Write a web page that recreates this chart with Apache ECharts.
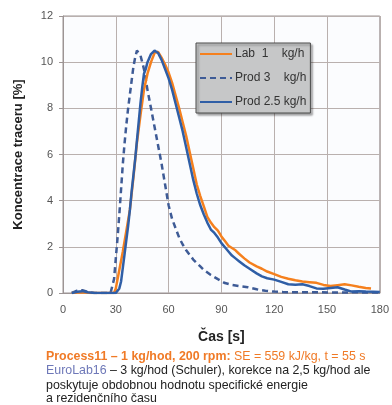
<!DOCTYPE html>
<html>
<head>
<meta charset="utf-8">
<script src="https://cdn.jsdelivr.net/npm/echarts@6/dist/echarts.min.js"></script>
<style>
  html, body { margin: 0; padding: 0; background: #fff; }
  #chart { width: 392px; height: 405px; }
</style>
</head>
<body>
<div id="chart"></div>
<script>
  // time [s] and tracer concentration [%]
  var timeLab = [5, 8, 12, 16, 20, 25, 29, 30, 32, 34, 36, 38, 40, 42, 44, 46, 48, 50, 52, 54, 56, 58, 60, 62, 64, 66, 68, 70, 72, 74, 76, 78, 80, 82, 84, 86, 88, 90, 92, 94, 96, 98, 100, 103, 106, 110, 113, 116, 120, 124, 128, 132, 136, 140, 144, 148, 152, 156, 160, 164, 168, 172, 175];
  var valLab = [0, 0.02, 0.03, 0, 0, 0, 0, 0.2, 1.0, 1.8, 2.7, 3.6, 5.0, 6.5, 7.7, 8.8, 9.5, 10.0, 10.4, 10.45, 10.2, 9.9, 9.55, 9.1, 8.55, 8.0, 7.4, 6.8, 6.1, 5.4, 4.7, 4.2, 3.75, 3.3, 3.05, 2.85, 2.7, 2.45, 2.25, 2.05, 1.95, 1.85, 1.7, 1.5, 1.32, 1.15, 1.05, 0.93, 0.82, 0.7, 0.62, 0.55, 0.5, 0.47, 0.44, 0.35, 0.3, 0.34, 0.38, 0.33, 0.27, 0.22, 0.2];

  var timeProd3 = [5, 8, 11, 14, 18, 22, 27, 28, 29, 30, 31, 32, 33, 34, 35, 36, 37, 38, 39, 40, 41, 42, 43, 44, 46, 48, 50, 52, 54, 56, 58, 60, 62, 64, 66, 68, 70, 72, 74, 76, 78, 80, 84, 88, 92, 96, 100, 105, 110, 115, 120, 125, 135, 145, 155, 165, 180];
  var valProd3 = [0, 0.1, 0.12, 0.05, 0, 0, 0, 0.05, 0.6, 1.5, 2.4, 3.4, 4.5, 5.6, 6.5, 7.3, 8.0, 8.6, 9.2, 9.8, 10.2, 10.5, 10.5, 10.3, 9.7, 8.8, 8.0, 7.2, 6.4, 5.6, 4.7, 3.8, 3.2, 2.8, 2.4, 2.1, 1.85, 1.65, 1.45, 1.3, 1.15, 1.0, 0.78, 0.6, 0.43, 0.35, 0.3, 0.25, 0.16, 0.1, 0.06, 0.04, 0.03, 0.03, 0.02, 0.03, 0.02];

  var timeProd25 = [5, 8, 11, 14, 18, 24, 30, 31, 32, 33, 34, 35, 36, 37, 38, 39, 40, 41, 42, 43, 44, 45, 46, 47, 48, 50, 52, 54, 56, 58, 60, 62, 64, 66, 68, 70, 72, 74, 76, 78, 80, 82, 84, 86, 88, 90, 92, 94, 96, 98, 100, 103, 106, 110, 113, 116, 120, 124, 128, 132, 136, 140, 144, 148, 152, 156, 160, 164, 168, 172, 176, 180];
  var valProd25 = [0, 0.05, 0.08, 0.03, 0, 0, 0, 0.05, 0.2, 0.5, 1.1, 1.7, 2.3, 2.9, 3.6, 4.4, 5.1, 5.8, 6.6, 7.4, 8.2, 8.9, 9.5, 9.7, 10.0, 10.35, 10.5, 10.4, 10.1, 9.7, 9.3, 8.8, 8.2, 7.6, 7.0, 6.3, 5.6, 4.9, 4.3, 3.8, 3.4, 3.05, 2.75, 2.6, 2.4, 2.16, 1.98, 1.8, 1.62, 1.5, 1.38, 1.2, 1.05, 0.85, 0.72, 0.64, 0.58, 0.48, 0.38, 0.36, 0.38, 0.3, 0.2, 0.18, 0.22, 0.25, 0.15, 0.06, 0.08, 0.06, 0.05, 0.04];

  var seriesNames = ['Lab  1    kg/h', 'Prod 3    kg/h', 'Prod 2.5 kg/h'];

  function pairs(ts, vs) {
    var out = [];
    for (var i = 0; i < ts.length; i++) out.push([ts[i], vs[i]]);
    return out;
  }

  var chart = echarts.init(document.getElementById('chart'), null, { renderer: 'canvas' });

  var txt = { fontFamily: 'Liberation Sans, Arial, sans-serif' };

  chart.setOption({
    animation: false,
    backgroundColor: '#ffffff',
    textStyle: txt,
    grid: {
      left: 63, right: 9, top: 16, bottom: 112,
      show: true, borderColor: '#9c9494', borderWidth: 1, backgroundColor: '#fbfcfe'
    },
    legend: {
      data: seriesNames,
      orient: 'vertical',
      left: 196, top: 43,
      itemWidth: 32, itemHeight: 10, itemGap: 12,
      padding: [5, 4, 5, 3],
      backgroundColor: '#c6c7c8',
      borderColor: '#4a4a4a', borderWidth: 1,
      shadowColor: 'rgba(0,0,0,0.35)', shadowBlur: 2, shadowOffsetX: 2, shadowOffsetY: 2,
      itemStyle: { opacity: 0 },
      textStyle: { fontFamily: txt.fontFamily, fontSize: 12, color: '#333', padding: [0, 0, 0, -2] }
    },
    xAxis: {
      type: 'value', min: 0, max: 180, interval: 30,
      name: 'Čas [s]', nameLocation: 'middle', nameGap: 37,
      nameTextStyle: { fontFamily: txt.fontFamily, fontSize: 14, fontWeight: 'bold', color: '#222' },
      axisLine: { show: true, lineStyle: { color: '#9c9494' } },
      axisTick: { show: false },
      axisLabel: { fontSize: 11, color: '#555', margin: 11 },
      splitLine: { show: true, lineStyle: { color: '#b9b0ae', width: 1 } }
    },
    yAxis: {
      type: 'value', min: 0, max: 12, interval: 2,
      name: 'Koncentrace traceru [%]', nameLocation: 'middle', nameGap: 38, nameRotate: 90,
      nameTextStyle: { fontFamily: txt.fontFamily, fontSize: 13, fontWeight: 'bold', color: '#222' },
      axisLine: { show: true, lineStyle: { color: '#9c9494' } },
      axisTick: { show: true, length: 4, lineStyle: { color: '#9c9494' } },
      axisLabel: { fontSize: 11, color: '#555', margin: 10 },
      splitLine: { show: true, lineStyle: { color: '#b9b0ae', width: 1 } }
    },
    series: [
      {
        name: seriesNames[0], type: 'line', symbol: 'none', z: 3,
        data: pairs(timeLab, valLab),
        lineStyle: { color: '#f5801e', width: 2.5 },
        itemStyle: { color: '#f5801e' }
      },
      {
        name: seriesNames[1], type: 'line', symbol: 'none', z: 2,
        data: pairs(timeProd3, valProd3),
        lineStyle: { color: '#3e5b96', width: 2.5, type: [6, 4] },
        itemStyle: { color: '#3e5b96' }
      },
      {
        name: seriesNames[2], type: 'line', symbol: 'none', z: 4,
        data: pairs(timeProd25, valProd25),
        lineStyle: { color: '#2f5ea6', width: 2.5 },
        itemStyle: { color: '#2f5ea6' }
      }
    ],
    graphic: [
      {
        type: 'text', left: 46, top: 351,
        style: {
          text: '{b|Process11 – 1 kg/hod, 200 rpm:} {n|SE = 559 kJ/kg, t = 55 s}',
          rich: {
            b: { fontFamily: txt.fontFamily, fontSize: 12.4, fontWeight: 'bold', fill: '#f07a26' },
            n: { fontFamily: txt.fontFamily, fontSize: 12.4, fill: '#f07a26' }
          }
        }
      },
      {
        type: 'text', left: 46, top: 365,
        style: {
          text: '{e|EuroLab16} {n|– 3 kg/hod (Schuler), korekce na 2,5 kg/hod ale}',
          rich: {
            e: { fontFamily: txt.fontFamily, fontSize: 12.4, fill: '#6e78b8' },
            n: { fontFamily: txt.fontFamily, fontSize: 12.4, fill: '#222' }
          }
        }
      },
      {
        type: 'text', left: 46, top: 380,
        style: { text: 'poskytuje obdobnou hodnotu specifické energie', fontFamily: txt.fontFamily, fontSize: 12.4, fill: '#222' }
      },
      {
        type: 'text', left: 46, top: 393,
        style: { text: 'a rezidenčního času', fontFamily: txt.fontFamily, fontSize: 12.4, fill: '#222' }
      }
    ]
  });
</script>
</body>
</html>
